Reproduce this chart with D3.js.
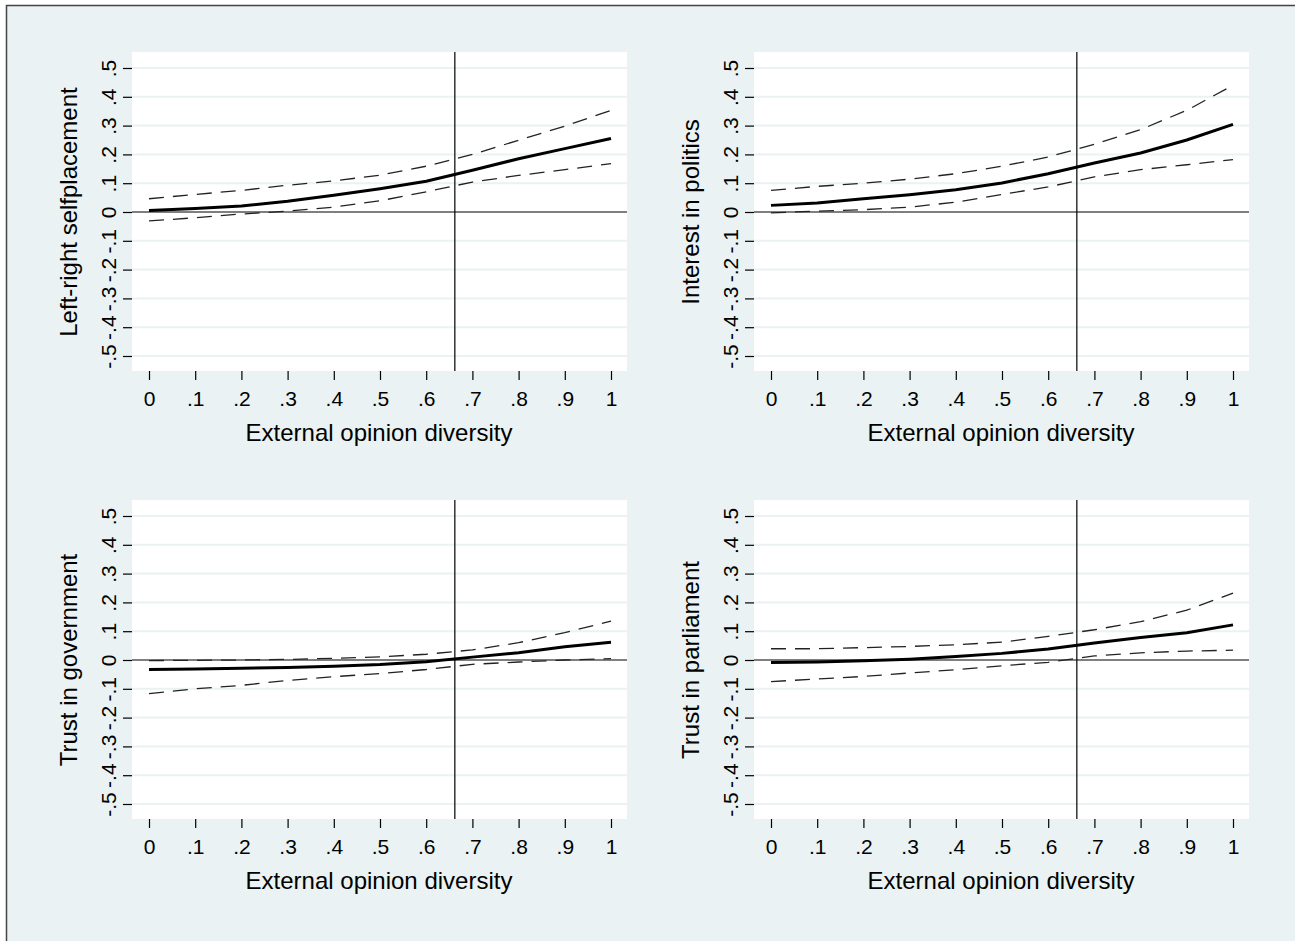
<!DOCTYPE html>
<html>
<head>
<meta charset="utf-8">
<script src="https://cdn.jsdelivr.net/npm/d3@7"></script>
<style>
  html, body { margin: 0; padding: 0; background: #fff; }
  svg { display: block; font-family: Arial, "Liberation Sans", sans-serif; }
</style>
</head>
<body>
<div id="chart"></div>
<script>
// x grid the margins were evaluated at
const xValues = [0, 0.1, 0.2, 0.3, 0.4, 0.5, 0.6, 0.7, 0.8, 0.9, 1];
const xTicks = [0, 0.1, 0.2, 0.3, 0.4, 0.5, 0.6, 0.7, 0.8, 0.9, 1];
const yTicks = [-0.5, -0.4, -0.3, -0.2, -0.1, 0, 0.1, 0.2, 0.3, 0.4, 0.5];
const markerX = 0.662;
const xTitle = 'External opinion diversity';

const titles = ['Left-right selfplacement', 'Interest in politics', 'Trust in government', 'Trust in parliament'];

const leftRightEst = [0.005, 0.012, 0.021, 0.037, 0.058, 0.081, 0.107, 0.145, 0.185, 0.22, 0.255];
const leftRightHi = [0.046, 0.061, 0.075, 0.093, 0.108, 0.128, 0.159, 0.2, 0.249, 0.298, 0.353];
const leftRightLo = [-0.031, -0.02, -0.007, 0.003, 0.017, 0.039, 0.07, 0.104, 0.127, 0.147, 0.168];

const interestEst = [0.023, 0.031, 0.046, 0.06, 0.077, 0.101, 0.133, 0.17, 0.205, 0.25, 0.304];
const interestHi = [0.075, 0.089, 0.1, 0.114, 0.133, 0.159, 0.191, 0.235, 0.286, 0.353, 0.44];
const interestLo = [-0.003, 0.003, 0.008, 0.017, 0.034, 0.061, 0.087, 0.122, 0.147, 0.164, 0.182];

const govEst = [-0.033, -0.031, -0.029, -0.026, -0.022, -0.016, -0.006, 0.01, 0.025, 0.046, 0.062];
const govHi = [-0.002, -0.001, 0.0, 0.002, 0.006, 0.011, 0.02, 0.035, 0.06, 0.095, 0.135];
const govLo = [-0.117, -0.1, -0.088, -0.071, -0.058, -0.047, -0.033, -0.015, -0.007, 0.0, 0.005];

const parlEst = [-0.009, -0.007, -0.003, 0.003, 0.012, 0.023, 0.038, 0.059, 0.078, 0.095, 0.122];
const parlHi = [0.039, 0.039, 0.043, 0.047, 0.053, 0.062, 0.082, 0.105, 0.133, 0.173, 0.232];
const parlLo = [-0.075, -0.066, -0.057, -0.045, -0.034, -0.02, -0.008, 0.014, 0.025, 0.031, 0.034];

const panels = [
  { title: titles[0], est: leftRightEst, hi: leftRightHi, lo: leftRightLo, col: 0, row: 0 },
  { title: titles[1], est: interestEst, hi: interestHi, lo: interestLo, col: 1, row: 0 },
  { title: titles[2], est: govEst, hi: govHi, lo: govLo, col: 0, row: 1 },
  { title: titles[3], est: parlEst, hi: parlHi, lo: parlLo, col: 1, row: 1 },
];

const width = 1295;
const height = 941;
const bg = '#eaf2f3';
const plotW = 495;
const plotH = 319;
const colX = [132, 754];
const rowY = [52, 500];

// stata style labels: .5, -.5, 0, 1 (plain hyphen)
const fmt = (d) => {
  if (d === 0) return '0';
  if (d === 1) return '1';
  return d3.format('.1f')(d).replace('\u2212', '-').replace('0.', '.');
};

const svg = d3.select('#chart')
  .append('svg')
  .attr('width', width)
  .attr('height', height);

svg.append('rect')
  .attr('x', 6.5)
  .attr('y', 5.5)
  .attr('width', width + 20)
  .attr('height', height + 20)
  .attr('fill', bg)
  .attr('stroke', '#444')
  .attr('stroke-width', 1.5);

const x = d3.scaleLinear().domain([0, 1]).range([17, 479]);
const y = d3.scaleLinear().domain([-0.5, 0.5]).range([304, 16]);

panels.forEach((p) => {
  const g = svg.append('g')
    .attr('transform', `translate(${colX[p.col]},${rowY[p.row]})`);

  g.append('rect')
    .attr('width', plotW)
    .attr('height', plotH)
    .attr('fill', '#fff');

  // grid lines
  g.selectAll('.grid')
    .data(yTicks.filter((d) => d !== 0))
    .enter()
    .append('line')
    .attr('class', 'grid')
    .attr('x1', 0)
    .attr('x2', plotW)
    .attr('y1', (d) => y(d))
    .attr('y2', (d) => y(d))
    .attr('stroke', bg)
    .attr('stroke-width', 2);

  // reference lines
  g.append('line')
    .attr('x1', 0)
    .attr('x2', plotW)
    .attr('y1', y(0))
    .attr('y2', y(0))
    .attr('stroke', '#000')
    .attr('stroke-width', 1.2);

  g.append('line')
    .attr('x1', x(markerX))
    .attr('x2', x(markerX))
    .attr('y1', 0)
    .attr('y2', plotH)
    .attr('stroke', '#000')
    .attr('stroke-width', 1.2);

  const line = d3.line()
    .x((d, i) => x(xValues[i]))
    .y((d) => y(d));

  [p.hi, p.lo].forEach((s) => {
    g.append('path')
      .datum(s)
      .attr('d', line)
      .attr('fill', 'none')
      .attr('stroke', '#222')
      .attr('stroke-width', 1.3)
      .attr('stroke-dasharray', '15,9');
  });

  g.append('path')
    .datum(p.est)
    .attr('d', line)
    .attr('fill', 'none')
    .attr('stroke', '#000')
    .attr('stroke-width', 3);

  // y axis
  const yAxis = g.append('g')
    .call(d3.axisLeft(y).tickValues(yTicks).tickSize(9).tickFormat(fmt));
  yAxis.select('.domain').remove();
  yAxis.selectAll('.tick line').attr('stroke', '#000').attr('stroke-width', 1.2);
  yAxis.selectAll('.tick text')
    .attr('x', 0)
    .attr('y', 0)
    .attr('dy', null)
    .attr('transform', 'translate(-24,0) rotate(-90)')
    .attr('text-anchor', 'middle')
    .attr('dominant-baseline', 'central')
    .attr('font-size', 21)
    .attr('fill', '#000');

  // x axis
  const xAxis = g.append('g')
    .attr('transform', `translate(0,${plotH})`)
    .call(d3.axisBottom(x).tickValues(xTicks).tickSize(9).tickFormat(fmt));
  xAxis.select('.domain').remove();
  xAxis.selectAll('.tick line').attr('stroke', '#000').attr('stroke-width', 1.2);
  xAxis.selectAll('.tick text')
    .attr('y', 27)
    .attr('dy', null)
    .attr('dominant-baseline', 'central')
    .attr('font-size', 21)
    .attr('fill', '#000');

  g.append('text')
    .attr('x', x(0.5) - 1)
    .attr('y', plotH + 61)
    .attr('text-anchor', 'middle')
    .attr('dominant-baseline', 'central')
    .attr('font-size', 24)
    .text(xTitle);

  g.append('text')
    .attr('transform', `translate(-64,${y(0)}) rotate(-90)`)
    .attr('text-anchor', 'middle')
    .attr('dominant-baseline', 'central')
    .attr('font-size', 24)
    .text(p.title);
});
</script>
</body>
</html>
